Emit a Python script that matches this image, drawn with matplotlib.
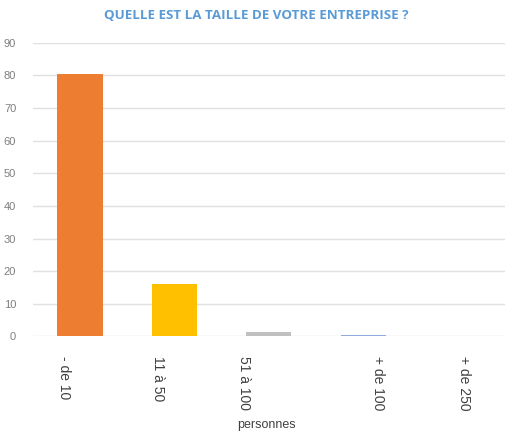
import matplotlib
matplotlib.use("Agg")
from matplotlib import pyplot as plt
from matplotlib.transforms import ScaledTranslation

categories = ["- de 10", "11 à 50", "51 à 100", "+ de 100", "+ de 250"]
values = [80.5, 16, 1.5, 0.5, 0]
colors = ["#ED7D31", "#FFC000", "#C0C0C0", "#8FAADC", "#5B9BD5"]
yticks = [0, 10, 20, 30, 40, 50, 60, 70, 80, 90]

plt.rcParams['font.family'] = ['Liberation Sans', 'DejaVu Sans']

fig = plt.figure(figsize=(5.13, 4.33), dpi=100)
ax = fig.add_axes([0.064, 0.223, 0.92, 0.678])

x = list(range(len(categories)))
ax.bar(x, values, width=0.48, color=colors, zorder=3)

ax.set_ylim(0, 90)
ax.set_xlim(-0.5, len(categories) - 0.5)
ax.set_yticks(yticks)
ax.set_xticks(x)
ax.set_xticklabels(categories, rotation=-90, fontsize=10, color="#404040")
ax.tick_params(axis='y', labelsize=8, colors="#7f7f7f", length=0, pad=12)
ax.tick_params(axis='x', length=0, pad=14)
ax.grid(axis='y', color="#e0e0e0", linewidth=1, zorder=0)
for s in ax.spines.values():
    s.set_visible(False)

# the labels in the original sit a bit off the bar centres
shifts = [-16, -16, -25, 15, 6]
for lab, dx in zip(ax.get_xticklabels(), shifts):
    lab.set_transform(lab.get_transform() + ScaledTranslation(dx / 100, 0, fig.dpi_scale_trans))

fig.text(0.52, 0.018, "personnes", ha='center', va='center', fontsize=9, color="#404040")
fig.text(0.5, 0.965, "QUELLE EST LA TAILLE DE VOTRE ENTREPRISE ?", ha='center', va='center',
         fontsize=9.6, fontweight='bold', color="#5B9BD5", family=['Open Sans', 'DejaVu Sans'])

plt.savefig("out.png")
